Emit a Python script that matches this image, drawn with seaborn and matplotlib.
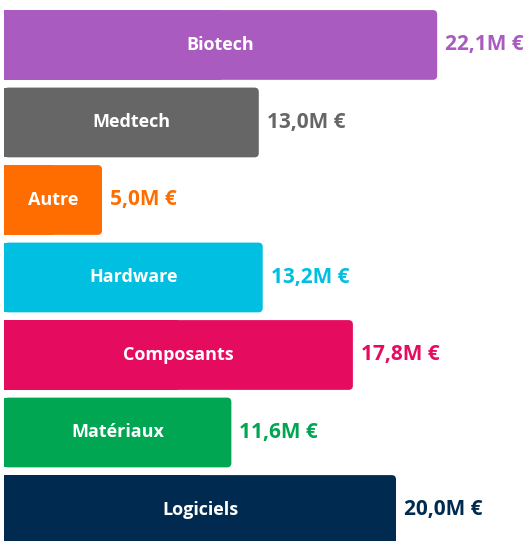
import numpy as np
import pandas as pd
import matplotlib
matplotlib.use("Agg")
import matplotlib.pyplot as plt
from matplotlib.patches import FancyBboxPatch, Rectangle
import seaborn as sns

# données
secteurs = ["Biotech", "Medtech", "Autre", "Hardware", "Composants", "Matériaux", "Logiciels"]
montants = [22.1, 13.0, 5.0, 13.2, 17.8, 11.6, 20.0]  # en M€
couleurs = ["#a95bbf", "#666666", "#ff6d00", "#00bfe1", "#e50b5f", "#00a651", "#002a4f"]

df = pd.DataFrame({"secteur": secteurs, "montant": montants})

sns.set_theme(style="white")
plt.rcParams['font.family'] = ['Open Sans', 'DejaVu Sans']

fig = plt.figure(figsize=(5.29, 5.41), dpi=100)
ax = fig.add_axes([4 / 529, 0, 525 / 529, 1])

sns.barplot(data=df, x="montant", y="secteur", hue="secteur", palette=couleurs,
            orient="h", width=0.9, saturation=1, legend=False, ax=ax)

ax.set_xlim(0, 525 / 19.6)
ax.set_ylim(6.4, -0.58)
ax.axis("off")

# coins arrondis a droite
aspect = (1 / 77.5) / (1 / 19.6)
for p in list(ax.patches):
    x0, y0 = p.get_x(), p.get_y()
    w, h = p.get_width(), p.get_height()
    col = p.get_facecolor()
    p.remove()
    ax.add_patch(FancyBboxPatch((x0, y0), w, h, boxstyle="round,pad=0,rounding_size=0.22",
                                mutation_aspect=aspect, fc=col, ec="none"))
    ax.add_patch(Rectangle((x0, y0), w / 2, h, fc=col, ec="none"))

for i, (s, v, c) in enumerate(zip(secteurs, montants, couleurs)):
    ax.text(v / 2, i, s, ha="center", va="center", color="white",
            fontsize=13, fontweight="bold")
    lab = f"{v:.1f}".replace(".", ",") + "M €"
    ax.text(v + 0.4, i, lab, ha="left", va="center", color=c,
            fontsize=15, fontweight="bold")

fig.savefig("out.png", dpi=100)
